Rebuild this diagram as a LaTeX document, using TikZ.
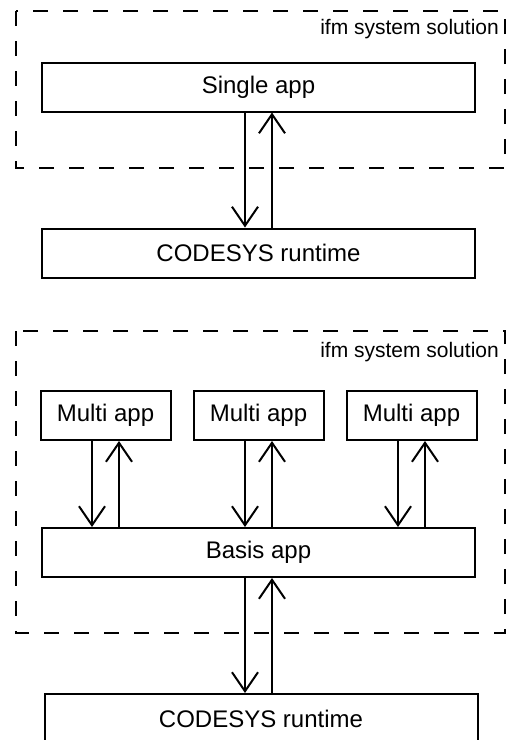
\documentclass[tikz,border=0pt]{standalone}
\usepackage{fontspec}
\setmainfont{Liberation Sans}
\usepackage{tikz}
\usetikzlibrary{arrows.meta, positioning}

\begin{document}
\begin{tikzpicture}[
    x=1pt, y=-1pt,
    node distance=115pt and 21pt,
    appblock/.style={rectangle, draw, line width=2pt, minimum width=433pt, minimum height=49pt, inner sep=0pt, font=\fontsize{24}{28}\selectfont},
    multiblock/.style={appblock, minimum width=130pt},
    frame/.style={draw, line width=2pt, dash pattern=on 15pt off 15pt},
    framelabel/.style={anchor=east, inner sep=0pt, font=\fontsize{21}{25}\selectfont},
    arrow/.style={-{Straight Barb[length=19pt, width=26pt]}, line width=2pt},
]
\useasboundingbox (0,0) rectangle (506,740);
% upper part: single app
\draw[frame] (16,11) rectangle (505,168);
\node[framelabel] (label1) at (499,29) {ifm system solution};
\node[appblock] (single) at (258.5,87) {Single app};
\node[appblock, below=115pt of single] (codesys1) {CODESYS runtime};
\draw[arrow] ([xshift=-13.5pt]single.south) -- ([xshift=-13.5pt]codesys1.north);
\draw[arrow] ([xshift=13.5pt]codesys1.north) -- ([xshift=13.5pt]single.south);
% lower part: multi apps on basis app
\draw[frame] (16,331) rectangle (505,633);
\node[framelabel] (label2) at (499,352) {ifm system solution};
\node[multiblock] (multi2) at (258.5,415.5) {Multi app};
\node[multiblock, left=21pt of multi2] (multi1) {Multi app};
\node[multiblock, right=21pt of multi2] (multi3) {Multi app};
\node[appblock, below=86pt of multi2] (basis) {Basis app};
\node[appblock, below=115pt of basis, xshift=2.5pt] (codesys2) {CODESYS runtime};
\foreach \m in {multi1, multi2, multi3} {
    \draw[arrow] ([xshift=-13.5pt]\m.south) -- ([xshift=-13.5pt]\m.south |- basis.north);
    \draw[arrow] ([xshift=13.5pt]\m.south |- basis.north) -- ([xshift=13.5pt]\m.south);
}
\draw[arrow] ([xshift=-13.5pt]basis.south) -- ([xshift=-13.5pt]basis.south |- codesys2.north);
\draw[arrow] ([xshift=13.5pt]basis.south |- codesys2.north) -- ([xshift=13.5pt]basis.south);
\end{tikzpicture}
\end{document}
